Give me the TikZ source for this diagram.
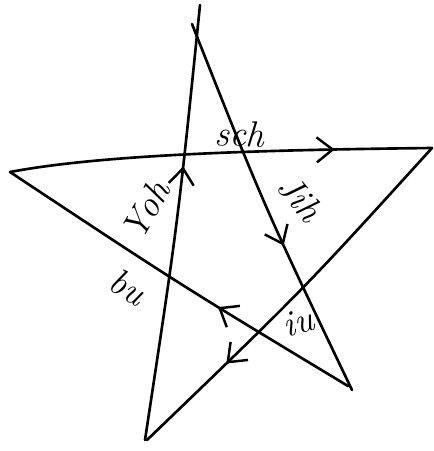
\documentclass[tikz,border=0pt]{standalone}
\usepackage{tikz}
\usetikzlibrary{arrows.meta,decorations.markings}

\begin{document}
\begin{tikzpicture}[
  x=0.02cm, y=0.02cm,
  every node/.style={font=\huge\itshape, inner sep=1pt},
  stroke/.style={line width=1.5pt, line cap=round},
  arrowat/.style={postaction={decorate}, decoration={markings,
    mark=at position #1 with {\arrow[line width=1.4pt]{Straight Barb[length=3.2mm, width=5mm]}}}},
]
\useasboundingbox (0,0) rectangle (434,-451);
% Star points
\coordinate (top1) at (200,-5);
\coordinate (top2) at (192,-24);
\coordinate (left) at (10,-172);
\coordinate (right) at (432,-148);
\coordinate (bl) at (145,-440);
\coordinate (bl2) at (147,-440);
\coordinate (br) at (352,-390);
\coordinate (br2) at (348,-386);

% Edges
\draw[stroke, arrowat=0.63] (bl) .. controls (178,-222) .. (top1);
\draw[stroke, arrowat=0.60] (top2) .. controls (264,-206) .. (br);
\draw[stroke, arrowat=0.38] (br2) .. controls (179,-284) .. (left);
\draw[stroke, arrowat=0.77] (left) .. controls (100,-155) and (250,-150) .. (right);
\draw[stroke, arrowat=0.73] (right) .. controls (304,-289) .. (bl2);

% Labels
\node[rotate=-3] (lsch) at (240,-134) {sch};
\node[rotate=-50] (ljih) at (300,-198) {Jih};
\node[rotate=60] (lyoh) at (146,-210) {Yoh};
\node[rotate=-30] (lbu) at (128,-287) {bu};
\node[rotate=15] (liu) at (298,-322) {iu};
\end{tikzpicture}
\end{document}
